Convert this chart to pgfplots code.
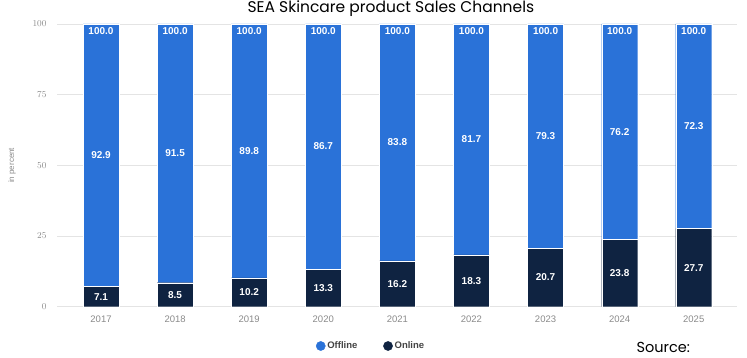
\documentclass[border=0pt]{standalone}
\usepackage{pgfplots}
\pgfplotsset{compat=1.18}
\usepackage{pgfplotstable}
\usepackage{fontspec}
\setmainfont{Liberation Sans}
\newfontfamily\titlefont{Poppins}
\definecolor{offc}{HTML}{2A72D8}
\definecolor{onc}{HTML}{0F2341}
\definecolor{tickc}{HTML}{8A8A8A}
\definecolor{gridc}{HTML}{E4E4E4}
\definecolor{legc}{HTML}{444444}

\pgfplotstableread{
x online offline
0 7.1 92.9
1 8.5 91.5
2 10.2 89.8
3 13.3 86.7
4 16.2 83.8
5 18.3 81.7
6 20.7 79.3
7 23.8 76.2
8 27.7 72.3
}\salesdata

\pgfplotstableread{
x y lab
0 3.55 7.1
1 4.25 8.5
2 5.1 10.2
3 6.65 13.3
4 8.1 16.2
5 9.15 18.3
6 10.35 20.7
7 11.9 23.8
8 13.85 27.7
}\onlinelabels

\pgfplotstableread{
x y lab
0 53.55 92.9
1 54.25 91.5
2 55.1 89.8
3 56.65 86.7
4 58.1 83.8
5 59.15 81.7
6 60.35 79.3
7 61.9 76.2
8 63.85 72.3
}\offlinelabels

\pgfplotstableread{
x y lab
0 97.6 100.0
1 97.6 100.0
2 97.6 100.0
3 97.6 100.0
4 97.6 100.0
5 97.6 100.0
6 97.6 100.0
7 97.6 100.0
8 97.6 100.0
}\toplabels

\begin{document}
\begin{tikzpicture}
\useasboundingbox (0pt,0pt) rectangle (747pt,358pt);
\begin{axis}[
  at={(57pt,51.3pt)}, anchor=south west, scale only axis,
  width=680pt, height=282.7pt,
  ybar stacked, bar width=36pt,
  xmin=-0.594, xmax=8.584, ymin=0, ymax=100,
  xtick={0,...,8},
  xticklabels={2017,2018,2019,2020,2021,2022,2023,2024,2025},
  ytick={0,25,50,75,100},
  ymajorgrids, grid style={draw=gridc, line width=0.6pt},
  axis line style={draw=none},
  major tick length=0pt,
  tick label style={font=\fontsize{9.5}{10}\selectfont, text=tickc},
  yticklabel style={xshift=-7pt},
  xticklabel style={yshift=-6pt},
  ylabel={in percent},
  ylabel style={font=\fontsize{8}{9}\selectfont, text=tickc, at={(axis description cs:-0.066,0.5)}, anchor=center},
  title={SEA Skincare product Sales Channels},
  title style={at={(axis description cs:0.491,1)}, anchor=base, yshift=5pt, font=\titlefont\fontsize{15.5}{16}\selectfont},
]
\addplot[fill=onc, draw=white, line width=0.3pt] table[x=x, y=online] {\salesdata};
\addplot[fill=offc, draw=white, line width=0.3pt] table[x=x, y=offline] {\salesdata};
\end{axis}
\begin{axis}[
  at={(57pt,51.3pt)}, anchor=south west, scale only axis,
  width=680pt, height=282.7pt,
  xmin=-0.594, xmax=8.584, ymin=0, ymax=100,
  hide axis,
  legend style={at={(0.462,-0.139)}, anchor=center, draw=none, fill=none,
    legend columns=2, font=\fontsize{9.5}{10}\selectfont\bfseries, text=legc,
    /tikz/every even column/.append style={column sep=24pt}},
  nodes near coords style={anchor=center, text=white, font=\fontsize{10}{11}\selectfont\bfseries},
]
\addlegendimage{only marks, mark=*, mark size=4.6pt, color=offc}
\addlegendentry{Offline}
\addlegendimage{only marks, mark=*, mark size=4.6pt, color=onc}
\addlegendentry{Online}
\addplot[draw=none, mark=none, nodes near coords, point meta=explicit symbolic] table[x=x, y=y, meta=lab] {\onlinelabels};
\addplot[draw=none, mark=none, nodes near coords, point meta=explicit symbolic] table[x=x, y=y, meta=lab] {\offlinelabels};
\addplot[draw=none, mark=none, nodes near coords, point meta=explicit symbolic] table[x=x, y=y, meta=lab] {\toplabels};
\end{axis}
\node[anchor=base west, font=\titlefont\fontsize{14.5}{15}\selectfont] at (633pt,5.5pt) {Source:};
\end{tikzpicture}
\end{document}
